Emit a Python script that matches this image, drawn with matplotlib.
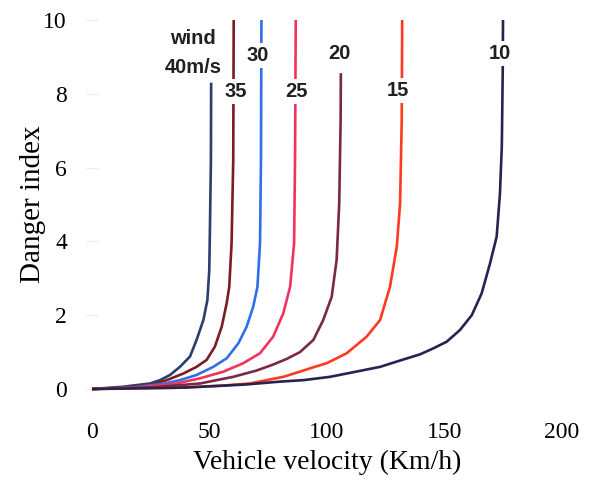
import matplotlib
matplotlib.use('Agg')
import matplotlib.pyplot as plt

# danger index vs vehicle velocity, one curve per wind speed (m/s)
winds = ['40', '35', '30', '25', '20', '15', '10']
colors = ['#2b3f6d', '#7a1e22', '#2f6fe8', '#f2325e', '#7a2848', '#ff3a22', '#25244f']

v40_x = [0, 13, 24.7, 28.9, 33.2, 37.4, 41.7, 44.5, 47.4, 49.1, 49.9, 50.2, 50.6, 50.7]
v40_y = [0, 0.06, 0.15, 0.24, 0.38, 0.6, 0.88, 1.33, 1.87, 2.41, 3.22, 4.4, 6.2, 8.3]
v35_x = [0, 14, 24.7, 31.8, 38.9, 44.5, 48.8, 52.3, 55.2, 57.3, 58.4, 59.4, 60.1, 60.3]
v35_y = [0, 0.04, 0.11, 0.24, 0.42, 0.6, 0.79, 1.15, 1.69, 2.32, 2.77, 3.95, 6.2, 10]
v30_x = [0, 17, 30.3, 37.4, 44.5, 51.6, 57.3, 62.3, 65.8, 68.6, 70.4, 71.5, 71.9, 72.1]
v30_y = [0, 0.04, 0.14, 0.24, 0.38, 0.6, 0.83, 1.24, 1.69, 2.23, 2.77, 3.95, 6.2, 10]
v25_x = [0, 20, 36, 46, 55.9, 64.4, 71.5, 77.1, 81.4, 84.3, 86.0, 86.4, 86.7]
v25_y = [0, 0.04, 0.15, 0.29, 0.47, 0.7, 0.97, 1.42, 2.05, 2.77, 3.95, 6.2, 10]
v20_x = [0, 25, 46, 60.1, 70, 77, 83, 88.5, 94.2, 98.4, 102, 104.1, 105.2, 105.8, 105.9]
v20_y = [0, 0.04, 0.15, 0.33, 0.5, 0.66, 0.82, 1.0, 1.33, 1.87, 2.5, 3.5, 5.03, 7.29, 8.56]
v15_x = [0, 35, 55, 67.2, 81.4, 88.5, 92.8, 99.9, 108.4, 116.9, 122.6, 126.8, 129.7, 131.1, 131.8, 132]
v15_y = [0, 0.03, 0.09, 0.15, 0.33, 0.47, 0.56, 0.7, 0.97, 1.42, 1.87, 2.77, 3.86, 5.03, 7.29, 10]
v10_x = [0, 40, 65, 80, 90, 101.3, 110, 122.6, 131, 139.6, 145.2, 150.9, 156.6, 161.6,
         165.8, 169.4, 172.2, 173.6, 174.4, 174.8, 174.9]
v10_y = [0, 0.04, 0.12, 0.2, 0.24, 0.33, 0.44, 0.6, 0.77, 0.94, 1.1, 1.28, 1.6, 2.0,
         2.59, 3.41, 4.13, 5.3, 6.6, 8.73, 10]

curves = [(v40_x, v40_y), (v35_x, v35_y), (v30_x, v30_y), (v25_x, v25_y),
          (v20_x, v20_y), (v15_x, v15_y), (v10_x, v10_y)]

# curve labels: text, x, y
labels = [('wind', 43, 9.5), ('40m/s', 43, 8.7), ('35', 61, 8.05), ('30', 70.6, 9.05),
          ('25', 87.1, 8.05), ('20', 105.5, 9.1), ('15', 130.3, 8.08), ('10', 173.6, 9.1)]

fig = plt.figure(figsize=(5.9, 4.83), dpi=100)
ax = fig.add_axes([92/590, 94/483, 470/590, 369/483])

for (x, y), c in zip(curves, colors):
    ax.plot(x, y, color=c, lw=1.9, solid_capstyle='butt', solid_joinstyle='round',
            clip_on=False, zorder=2)

for t, x, y in labels:
    ax.text(x, y, t, ha='center', va='center', fontsize=14.5, fontweight='bold',
            family='Liberation Sans', color='#231f20', zorder=3,
            bbox=dict(boxstyle='square,pad=0.15', fc='white', ec='none'))

ax.set_xlim(0, 200)
ax.set_ylim(0, 10)
for s in ax.spines.values():
    s.set_visible(False)
ax.set_xticks([0, 50, 100, 150, 200])
ax.set_yticks([0, 2, 4, 6, 8, 10])
ax.tick_params(axis='x', length=0, pad=24)
ax.tick_params(axis='y', length=8, direction='inout', color='#f2eadc', pad=14)
for lab in ax.get_xticklabels() + ax.get_yticklabels():
    lab.set_family('Liberation Serif')
    lab.set_fontsize(17)
ax.set_xlabel('Vehicle velocity (Km/h)', family='Liberation Serif', fontsize=20)
ax.set_ylabel('Danger index', family='Liberation Serif', fontsize=21)
# put axis titles where the reference has them
ax.xaxis.set_label_coords(0.5, -0.165)
ax.yaxis.set_label_coords(-0.098, 0.5)

fig.savefig('out.png', dpi=100)
